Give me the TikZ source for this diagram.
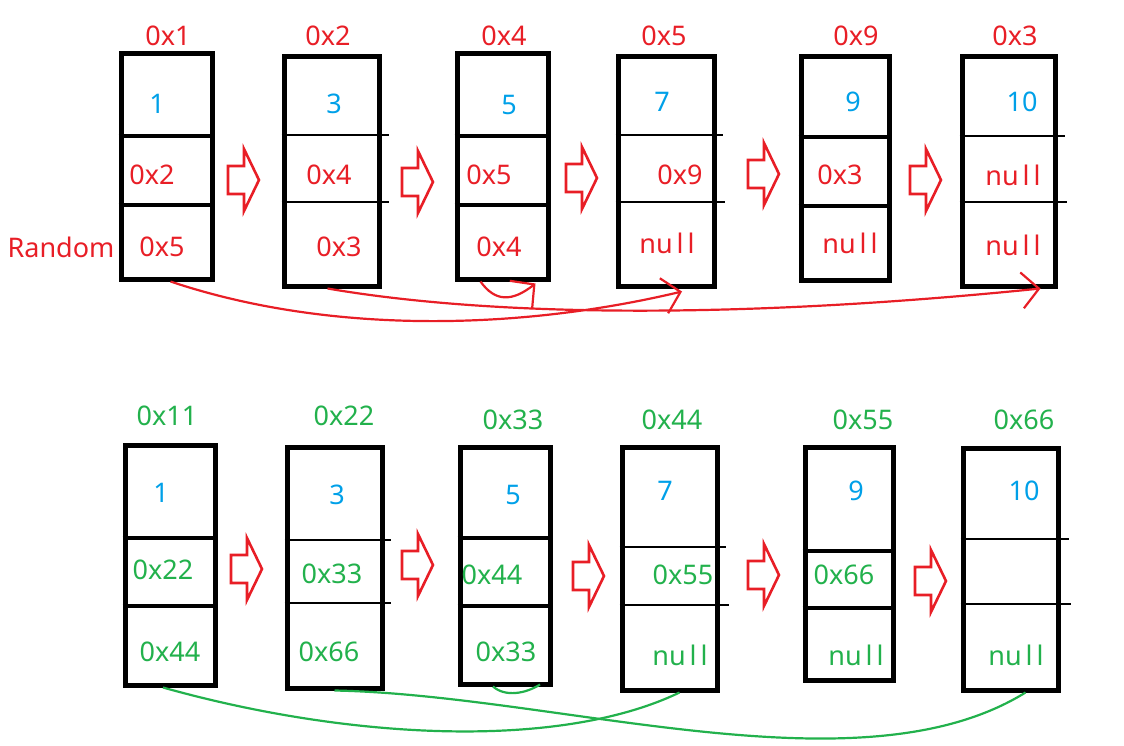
\documentclass[tikz,border=0pt]{standalone}
\usepackage{fontspec}
\setmainfont{Noto Sans}
\usetikzlibrary{arrows.meta}
\definecolor{pred}{RGB}{232,30,38}
\definecolor{pblue}{RGB}{0,160,232}
\definecolor{pgreen}{RGB}{34,177,76}
\newcommand{\nulltext}{nu\kern4pt l\kern4pt l}
\begin{document}
\begin{tikzpicture}[x=1pt,y=-1pt,
  cell/.style={draw=black,line width=5pt,inner sep=0pt},
  div/.style={draw=black,line width=3.8pt},
  tdiv/.style={draw=black,line width=2.6pt},
  txt/.style={inner sep=0pt,font=\fontsize{27}{30}\selectfont},
  rtxt/.style={txt,text=pred},
  btxt/.style={txt,text=pblue},
  gtxt/.style={txt,text=pgreen},
  hol/.style={draw=pred,line width=2.6pt,line join=miter},
  hollowarrow/.pic={\draw[hol] (-16,-14) -- (0,-14) -- (0,-31) -- (15,0) -- (0,31) -- (0,14) -- (-16,14) -- cycle;},
  rlink/.style={draw=pred,line width=2.2pt},
  glink/.style={draw=pgreen,line width=2.2pt},
  barb/.style={-{Straight Barb[length=17pt,width=36pt]}}
]
\useasboundingbox (0,0) rectangle (1124,746);

% ---------- top row ----------
\node[cell,minimum width=91pt,minimum height=225pt] (b1) at (166.5,166.5) {};
\node[cell,minimum width=95pt,minimum height=229pt] (b2) at (331.5,171.5) {};
\node[cell,minimum width=91pt,minimum height=225pt] (b3) at (502.5,166.5) {};
\node[cell,minimum width=96pt,minimum height=229pt] (b4) at (666,171.5) {};
\node[cell,minimum width=88pt,minimum height=223pt] (b5) at (845,168.5) {};
\node[cell,minimum width=93pt,minimum height=229pt] (b6) at (1008.5,171.5) {};

\draw[div] (b1.west |- 0,136) -- (b1.east |- 0,136);
\draw[div] (b1.west |- 0,205) -- (b1.east |- 0,205);
\draw[tdiv] (b2.west |- 0,135) -- ([xshift=7pt]b2.east |- 0,135);
\draw[tdiv] (b2.west |- 0,202) -- ([xshift=7pt]b2.east |- 0,202);
\draw[div] (b3.west |- 0,136) -- (b3.east |- 0,136);
\draw[div] (b3.west |- 0,205) -- (b3.east |- 0,205);
\draw[tdiv] (b4.west |- 0,135) -- ([xshift=6pt]b4.east |- 0,135);
\draw[tdiv] (b4.west |- 0,202) -- ([xshift=8pt]b4.east |- 0,202);
\draw[div] (b5.west |- 0,137) -- (b5.east |- 0,137);
\draw[div] (b5.west |- 0,206) -- (b5.east |- 0,206);
\draw[tdiv] (b6.west |- 0,136) -- ([xshift=7pt]b6.east |- 0,136);
\draw[tdiv] (b6.west |- 0,202) -- ([xshift=9pt]b6.east |- 0,202);

\node[rtxt] (a1) at (168,36) {0x1};
\node[rtxt] (a2) at (328,36) {0x2};
\node[rtxt] (a3) at (504,36) {0x4};
\node[rtxt] (a4) at (664,36) {0x5};
\node[rtxt] (a5) at (856,36) {0x9};
\node[rtxt] (a6) at (1015,36) {0x3};

\node[btxt] (v1) at (157,104) {1};
\node[btxt] (v2) at (334,104) {3};
\node[btxt] (v3) at (509,105) {5};
\node[btxt] (v4) at (662,102) {7};
\node[btxt] (v5) at (853,102) {9};
\node[btxt] (v6) at (1022,102) {10};

\node[rtxt] (n1) at (152,175) {0x2};
\node[rtxt] (n2) at (329,175) {0x4};
\node[rtxt] (n3) at (489,175) {0x5};
\node[rtxt] (n4) at (680,175) {0x9};
\node[rtxt] (n5) at (840,175) {0x3};
\node[rtxt] (n6) at (1013,175) {\nulltext};

\node[rtxt] (r1) at (162,247) {0x5};
\node[rtxt] (r2) at (339,247) {0x3};
\node[rtxt] (r3) at (499,247) {0x4};
\node[rtxt] (r4) at (667,243) {\nulltext};
\node[rtxt] (r5) at (850,243) {\nulltext};
\node[rtxt] (r6) at (1013,245) {\nulltext};

\node[rtxt] (rnd) at (61,247) {Random};

\pic (h1) at (244,180) {hollowarrow};
\pic (h2) at (418,182) {hollowarrow};
\pic (h3) at (582,178) {hollowarrow};
\pic (h4) at (764,174) {hollowarrow};
\pic (h5) at (926,180) {hollowarrow};

\coordinate (e1) at ([xshift=16pt,yshift=-3pt]b4.south);
\coordinate (e2) at ([xshift=32pt,yshift=0pt]b6.south);
\coordinate (e3) at ([xshift=33pt,yshift=-2pt]b3.south);
\draw[rlink,barb] ([xshift=4pt]b1.south) .. controls (330,335) and (520,330) .. (e1);
\draw[rlink,barb] ([xshift=-4pt]b2.south) .. controls (500,318) and (750,318) .. (e2);
\draw[rlink,barb] ([xshift=-22pt]b3.south) .. controls (495,302) and (512,302) .. (e3);

% ---------- bottom row ----------
\node[cell,minimum width=90pt,minimum height=240pt] (c1) at (170,565) {};
\node[cell,minimum width=95pt,minimum height=241pt] (c2) at (334.5,567.5) {};
\node[cell,minimum width=90pt,minimum height=237pt] (c3) at (505,565.5) {};
\node[cell,minimum width=95pt,minimum height=243pt] (c4) at (669.5,568.5) {};
\node[cell,minimum width=88pt,minimum height=233pt] (c5) at (849,563.5) {};
\node[cell,minimum width=95pt,minimum height=242pt] (c6) at (1010.5,569) {};

\draw[div] (c1.west |- 0,538) -- (c1.east |- 0,538);
\draw[div] (c1.west |- 0,606) -- (c1.east |- 0,606);
\draw[tdiv] (c2.west |- 0,540) -- ([xshift=6pt]c2.east |- 0,540);
\draw[tdiv] (c2.west |- 0,603) -- ([xshift=6pt]c2.east |- 0,603);
\draw[div] (c3.west |- 0,538) -- (c3.east |- 0,538);
\draw[div] (c3.west |- 0,606) -- (c3.east |- 0,606);
\draw[tdiv] (c4.west |- 0,547) -- ([xshift=6pt]c4.east |- 0,547);
\draw[tdiv] (c4.west |- 0,605) -- ([xshift=9pt]c4.east |- 0,605);
\draw[div] (c5.west |- 0,551) -- (c5.east |- 0,551);
\draw[div] (c5.west |- 0,608) -- (c5.east |- 0,608);
\draw[tdiv] (c6.west |- 0,539) -- ([xshift=8pt]c6.east |- 0,539);
\draw[tdiv] (c6.west |- 0,604) -- ([xshift=10pt]c6.east |- 0,604);

\node[gtxt] (g1) at (167,416) {0x11};
\node[gtxt] (g2) at (344,416) {0x22};
\node[gtxt] (g3) at (513,420) {0x33};
\node[gtxt] (g4) at (672,420) {0x44};
\node[gtxt] (g5) at (863,420) {0x55};
\node[gtxt] (g6) at (1024,420) {0x66};

\node[btxt] (w1) at (161,493) {1};
\node[btxt] (w2) at (337,495) {3};
\node[btxt] (w3) at (513,495) {5};
\node[btxt] (w4) at (665,491) {7};
\node[btxt] (w5) at (856,491) {9};
\node[btxt] (w6) at (1024,491) {10};

\node[gtxt] (m1) at (163,570) {0x22};
\node[gtxt] (m2) at (332,574) {0x33};
\node[gtxt] (m3) at (492,575) {0x44};
\node[gtxt] (m4) at (683,575) {0x55};
\node[gtxt] (m5) at (844,575) {0x66};

\node[gtxt] (q1) at (170,652) {0x44};
\node[gtxt] (q2) at (329,652) {0x66};
\node[gtxt] (q3) at (506,652) {0x33};
\node[gtxt] (q4) at (680,655) {\nulltext};
\node[gtxt] (q5) at (856,655) {\nulltext};
\node[gtxt] (q6) at (1016,655) {\nulltext};

\pic (k1) at (247,569) {hollowarrow};
\pic (k2) at (418,565) {hollowarrow};
\pic (k3) at (589,576) {hollowarrow};
\pic (k4) at (764,575) {hollowarrow};
\pic (k5) at (931,581) {hollowarrow};

\draw[glink] ([xshift=-7pt]c1.south) .. controls (350,740) and (560,750) .. ([xshift=10pt]c4.south);
\draw[glink] (c2.south) .. controls (560,695) and (860,795) .. ([xshift=15pt]c6.south);
\draw[glink] ([xshift=-12pt]c3.south) .. controls (505,697) and (525,694) .. ([xshift=35pt,yshift=2pt]c3.south);
\end{tikzpicture}
\end{document}
